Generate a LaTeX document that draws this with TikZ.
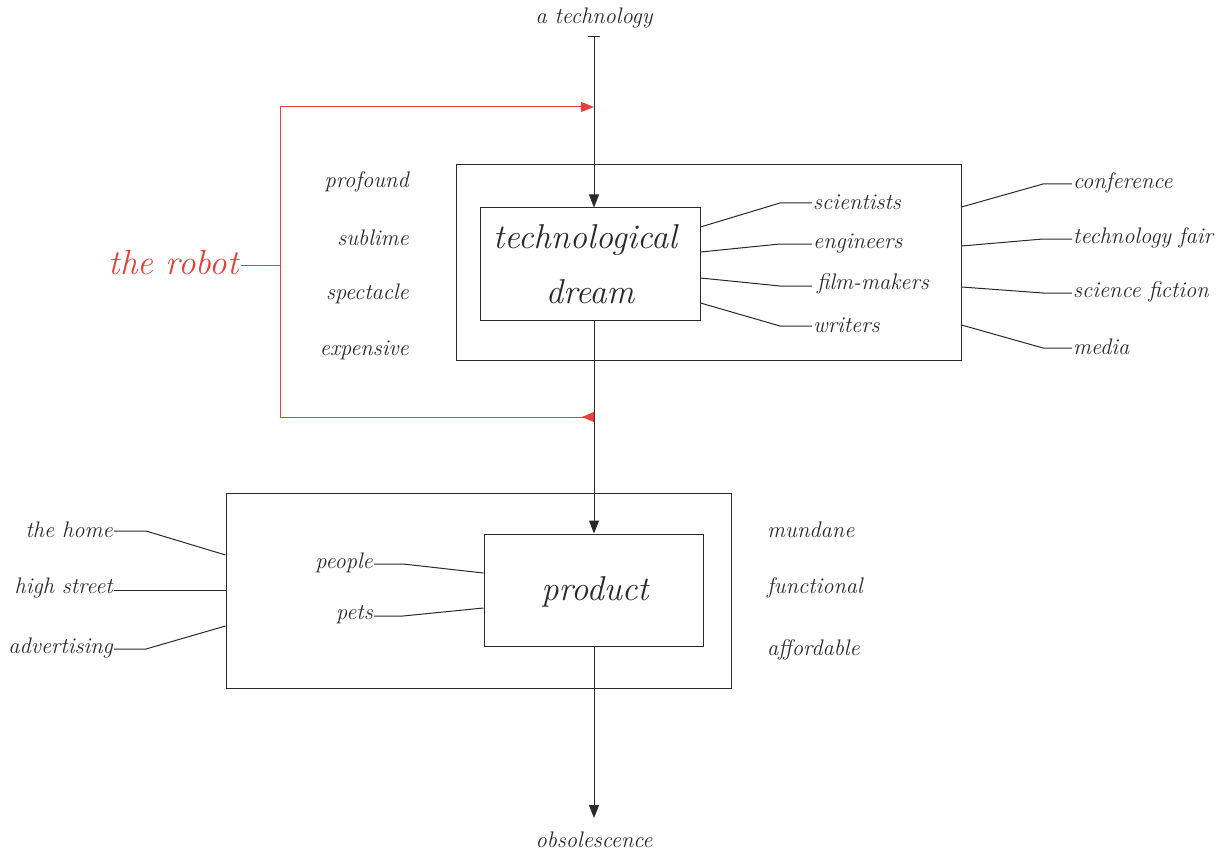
\documentclass[tikz,border=0pt]{standalone}
\usetikzlibrary{arrows.meta}
\definecolor{ink}{HTML}{2A2A2A}
\definecolor{robotred}{HTML}{E8403A}
\tikzset{
  lbl/.style={font=\fontsize{22.5}{26}\selectfont\itshape, text=ink, inner sep=1pt},
  lblL/.style={lbl, anchor=east},
  lblR/.style={lbl, anchor=west},
  big/.style={font=\fontsize{34.5}{40}\selectfont\itshape, text=ink, inner sep=0pt},
  frame/.style={draw=ink, line width=1pt},
  wire/.style={draw=ink, line width=1pt},
  tipA/.style={-{Triangle[length=13pt,width=10pt]}},
  flow/.style={draw=ink, line width=1pt, tipA},
  redwire/.style={draw=robotred, line width=1pt},
  redflow/.style={redwire, tipA},
}
\begin{document}
\begin{tikzpicture}[x=1pt,y=-1pt]
\useasboundingbox (0,0) rectangle (1227,856);

% boxes
\node[frame, minimum width=505pt, minimum height=195pt, inner sep=0pt] (outerT) at (708.5,262.5) {};
\node[frame, minimum width=220pt, minimum height=112pt, inner sep=0pt] (dream) at (590,264) {};
\node[frame, minimum width=505pt, minimum height=195pt, inner sep=0pt] (outerB) at (478.5,590.5) {};
\node[frame, minimum width=219pt, minimum height=112pt, inner sep=0pt] (prod) at (593.5,590) {};

\node[big] (dreamA) at (585,240) {technological};
\node[big] (dreamB) at (590,292) {dream};
\node[big] (prodtxt) at (595,592) {product};

% main flow
\node[lbl] (tech) at (594,18) {a technology};
\coordinate (techfoot) at (594,37);
\coordinate (obsfoot) at (594,818);
\draw[wire] (588,37) -- (600,37);
\draw[flow] (techfoot) -- (dream.north -| techfoot);
\draw[flow] (dream.south -| techfoot) -- (prod.north -| techfoot);
\node[lbl] (obs) at (594,840) {obsolescence};
\draw[flow] (prod.south -| techfoot) -- (obsfoot);

% the robot
\node[font=\fontsize{35}{40}\selectfont\itshape, text=robotred, anchor=east, inner sep=2pt] (robot) at (241,263) {the robot};
\coordinate (rj) at (280,265);
\coordinate (rtop) at (280,107);
\coordinate (rbot) at (280,417);
\coordinate (ttop) at (594,107);
\coordinate (tbot) at (594,417);
\draw[redwire] (robot.east |- rj) -- (rj);
\draw[redwire] (rtop) -- (rbot);
\draw[redflow] (rtop) -- (ttop);
\draw[redwire, {Triangle[reversed,length=12pt,width=10pt]}-] (tbot) -- (rbot);

% qualities of the dream
\node[lblL] (q1) at (410,182) {profound};
\node[lblL] (q2) at (410,238) {sublime};
\node[lblL] (q3) at (410,294) {spectacle};
\node[lblL] (q4) at (410,350) {expensive};

% qualities of the product
\node[lblR] (p1) at (766,530) {mundane};
\node[lblR] (p2) at (766,588) {functional};
\node[lblR] (p3) at (766,650) {affordable};

% makers of the dream
\node[lblR] (m1) at (812,202) {scientists};
\node[lblR] (m2) at (812,243) {engineers};
\node[lblR] (m3) at (816,284) {film-makers};
\node[lblR] (m4) at (812,325) {writers};
\draw[wire] (dream.east |- 0,227) -- (780,203) -- (m1.west |- 0,203);
\draw[wire] (dream.east |- 0,252) -- (780,244) -- (m2.west |- 0,244);
\draw[wire] (dream.east |- 0,278) -- (780,286) -- (812,286);
\draw[wire] (dream.east |- 0,303) -- (780,326) -- (m4.west |- 0,326);

% venues of the dream
\node[lblR] (v1) at (1072,183) {conference};
\node[lblR] (v2) at (1072,238) {technology fair};
\node[lblR] (v3) at (1072,292) {science fiction};
\node[lblR] (v4) at (1072,347) {media};
\draw[wire] (outerT.east |- 0,207) -- (1043,184) -- (v1.west |- 0,184);
\draw[wire] (outerT.east |- 0,246) -- (1043,239) -- (v2.west |- 0,239);
\draw[wire] (outerT.east |- 0,287) -- (1043,293) -- (v3.west |- 0,293);
\draw[wire] (outerT.east |- 0,325) -- (1043,348) -- (v4.west |- 0,348);

% places of the product
\node[lblL] (h1) at (114,530) {the home};
\node[lblL] (h2) at (114,588) {high street};
\node[lblL] (h3) at (114,648) {advertising};
\draw[wire] (h1.east |- 0,531) -- (146,531) -- (outerB.west |- 0,555);
\draw[wire] (h2.east |- 0,590) -- (outerB.west |- 0,590);
\draw[wire] (h3.east |- 0,649) -- (146,649) -- (outerB.west |- 0,626);

% users of the product
\node[lblL] (u1) at (374,563) {people};
\node[lblL] (u2) at (374,615) {pets};
\draw[wire] (u1.east |- 0,564) -- (403,564) -- (prod.west |- 0,573);
\draw[wire] (u2.east |- 0,616) -- (403,616) -- (prod.west |- 0,608);
\end{tikzpicture}
\end{document}
